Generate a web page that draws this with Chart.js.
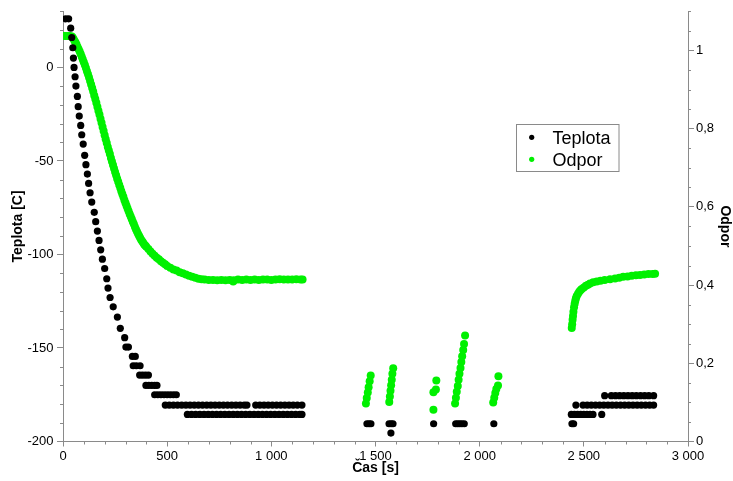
<!DOCTYPE html>
<html lang="cs">
<head>
<meta charset="utf-8">
<title>Teplota a odpor</title>
<script src="https://cdn.jsdelivr.net/npm/chart.js@4.4.1/dist/chart.umd.min.js"></script>
<style>
  html, body { margin:0; padding:0; background:#fff; }
  #graf { display:block; }
</style>
</head>
<body>
<canvas id="graf" width="733" height="481"></canvas>
<script>
// --- data ---
// Teplota [C] vs Čas [s]
const teplotaCas = [
  13, 27, 37, 42, 47, 50, 53, 58, 62, 69, 73, 78, 85, 90, 97, 104, 110, 117, 123, 130, 138,
  150, 157, 165, 173, 181, 189, 200, 210, 216, 226, 241, 261, 275, 296, 302, 314,
  333, 347, 337, 352, 370, 368, 382, 396, 410, 398, 412, 426, 440, 451,
  440, 455, 470, 485, 500, 515, 530, 544,
  // -180 band
  491, 510, 530, 550, 570, 590, 610, 630, 650, 670, 690, 710, 730, 750, 770, 790, 810, 830, 850, 870, 883,
  925, 945, 965, 985, 1005, 1025, 1045, 1065, 1085, 1105, 1125, 1147,
  // -185 band
  597, 617, 637, 657, 677, 697, 717, 737, 757, 777, 797, 817, 837, 857, 877, 897, 917, 937, 957, 977,
  997, 1017, 1037, 1057, 1077, 1097, 1117, 1137, 1147,
  // middle part
  1459, 1469, 1478, 1565, 1575, 1584, 1574, 1779, 1885, 1895, 1905, 1915, 1926, 2068,
  // last part
  2443, 2451,
  2440, 2455, 2470, 2485, 2500, 2515, 2530, 2544, 2586,
  2462, 2496, 2516, 2536, 2556, 2576, 2596, 2616, 2636, 2656, 2676, 2696, 2716, 2736, 2756, 2776, 2796, 2816, 2835,
  2600, 2632, 2652, 2672, 2692, 2712, 2732, 2752, 2772, 2792, 2812, 2835
];
const teplotaHodnota = [
  26, 26, 21, 16, 10.5, 5, 0, -5, -10, -15.5, -21, -26, -31, -36, -41, -47, -52, -57, -62, -67, -72,
  -77.5, -82.5, -87.5, -92.5, -97.5, -102.5, -107.5, -113, -118, -123, -128, -133.5, -139.5, -144.5, -149.5, -149.5,
  -154.5, -154.5, -159.5, -159.5, -159.5, -164.5, -164.5, -164.5, -164.5, -170, -170, -170, -170, -170,
  -175, -175, -175, -175, -175, -175, -175, -175,
  -180.5, -180.5, -180.5, -180.5, -180.5, -180.5, -180.5, -180.5, -180.5, -180.5, -180.5, -180.5, -180.5, -180.5, -180.5, -180.5, -180.5, -180.5, -180.5, -180.5, -180.5,
  -180.5, -180.5, -180.5, -180.5, -180.5, -180.5, -180.5, -180.5, -180.5, -180.5, -180.5, -180.5,
  -185.5, -185.5, -185.5, -185.5, -185.5, -185.5, -185.5, -185.5, -185.5, -185.5, -185.5, -185.5, -185.5, -185.5, -185.5, -185.5, -185.5, -185.5, -185.5, -185.5,
  -185.5, -185.5, -185.5, -185.5, -185.5, -185.5, -185.5, -185.5, -185.5,
  -190.5, -190.5, -190.5, -190.5, -190.5, -190.5, -195.5, -190.5, -190.5, -190.5, -190.5, -190.5, -190.5, -190.5,
  -190.5, -190.5,
  -185.5, -185.5, -185.5, -185.5, -185.5, -185.5, -185.5, -185.5, -185.5,
  -180.5, -180.5, -180.5, -180.5, -180.5, -180.5, -180.5, -180.5, -180.5, -180.5, -180.5, -180.5, -180.5, -180.5, -180.5, -180.5, -180.5, -180.5, -180.5,
  -175.5, -175.5, -175.5, -175.5, -175.5, -175.5, -175.5, -175.5, -175.5, -175.5, -175.5, -175.5
];

// Odpor vs Čas [s]
const odporCas = [
  0, 10, 20, 30, 40, 45, 50, 55, 60, 65, 70, 75, 80, 85, 90, 95, 100, 105, 110, 115, 120, 125, 130, 135,
  140, 145, 150, 155, 160, 165, 170, 175, 180, 185, 190, 195, 200, 205, 210, 215, 220, 225, 230, 235,
  240, 245, 250, 255, 260, 265, 270, 275, 280, 285, 290, 295, 300, 305, 310, 315, 320, 325, 330, 335,
  340, 345, 350, 355, 360, 365, 370, 375, 380, 385, 390, 395, 400,
  410, 420, 430, 440, 450, 460, 470, 480, 490, 500, 515, 530, 545, 560, 575, 590, 605, 620, 635, 650, 665, 680,
  700, 720, 740, 760, 780, 800, 817, 820, 840, 860, 880, 900, 920, 940, 960, 980, 1000, 1020, 1040, 1060,
  1080, 1100, 1120, 1140, 1150,
  // short runs in the middle
  1454, 1458, 1463, 1467, 1472, 1477,
  1566, 1569, 1572, 1575, 1578, 1581, 1585,
  1778, 1778, 1790, 1792,
  1882, 1886, 1890, 1895, 1899, 1903, 1908, 1912, 1916, 1921, 1925, 1930,
  2065, 2070, 2075, 2080, 2088, 2090,
  // warming part
  2442, 2444, 2446, 2448, 2450, 2453, 2456, 2459, 2462, 2466, 2472, 2478, 2484, 2490, 2500, 2510, 2520, 2530,
  2545, 2562, 2580, 2600, 2626, 2650, 2670, 2689, 2710, 2730, 2750, 2770, 2790, 2810, 2830, 2842
];
const odporHodnota = [
  1.037, 1.037, 1.037, 1.037, 1.036, 1.034, 1.030, 1.025, 1.020, 1.015, 1.009, 1.003, 0.997, 0.991, 0.984, 0.977,
  0.970, 0.963, 0.955, 0.947, 0.939, 0.931, 0.922, 0.913,
  0.904, 0.895, 0.885, 0.876, 0.866, 0.856, 0.846, 0.836, 0.825, 0.815, 0.804, 0.794, 0.783, 0.773, 0.763, 0.753,
  0.744, 0.735, 0.725, 0.716,
  0.707, 0.698, 0.689, 0.681, 0.672, 0.664, 0.656, 0.648, 0.640, 0.632, 0.625, 0.617, 0.610, 0.603, 0.596, 0.589,
  0.582, 0.575, 0.569, 0.562,
  0.556, 0.549, 0.543, 0.537, 0.531, 0.526, 0.521, 0.516, 0.512, 0.508, 0.504, 0.501, 0.498,
  0.492, 0.486, 0.480, 0.475, 0.470, 0.466, 0.461, 0.457, 0.453, 0.449, 0.444, 0.440, 0.437, 0.433, 0.430, 0.427,
  0.424, 0.421, 0.419, 0.416, 0.415, 0.414,
  0.413, 0.413, 0.412, 0.413, 0.412, 0.413, 0.409, 0.412, 0.414, 0.413, 0.414, 0.413, 0.414, 0.413, 0.414, 0.414,
  0.413, 0.414, 0.415, 0.414,
  0.414, 0.414, 0.415, 0.414, 0.414,
  0.097, 0.111, 0.125, 0.139, 0.154, 0.169,
  0.101, 0.115, 0.130, 0.144, 0.158, 0.173, 0.187,
  0.081, 0.126, 0.133, 0.156,
  0.097, 0.112, 0.127, 0.142, 0.158, 0.173, 0.188, 0.203, 0.218, 0.234, 0.249, 0.271,
  0.100, 0.112, 0.124, 0.134, 0.143, 0.167,
  0.290, 0.300, 0.311, 0.321, 0.332, 0.343, 0.352, 0.360, 0.366, 0.372, 0.378, 0.383, 0.387, 0.390, 0.394, 0.398,
  0.401, 0.404,
  0.407, 0.409, 0.411, 0.413, 0.415, 0.417, 0.419, 0.421, 0.422, 0.424, 0.425, 0.426, 0.427, 0.428, 0.428, 0.429
];

// axis ticks
const casTicks = [0, 500, 1000, 1500, 2000, 2500, 3000];
const teplotaTicks = [-200, -150, -100, -50, 0];
const odporTicks = [0, 0.2, 0.4, 0.6, 0.8, 1];

const OSA = '#8a8a8a';
const CERNA = '#000000';
const ZELENA = '#00f000';

Chart.defaults.font.family = "'Liberation Sans', Arial, sans-serif";
Chart.defaults.color = '#000';

function body(xs, ys){ return xs.map((x, i) => ({ x: x, y: ys[i] })); }
function tisice(v){ return String(v).replace(/\B(?=(\d{3})+(?!\d))/g, ' '); }
function carka(v){ return (Math.round(v * 10) / 10).toString().replace('.', ','); }

// minor tick marks on all three axes
const vedlejsiCarky = {
  id: 'vedlejsiCarky',
  afterDraw(chart){
    const { ctx, scales: { x, yL, yR } } = chart;
    ctx.save();
    ctx.strokeStyle = OSA; ctx.lineWidth = 1;
    ctx.beginPath();
    for (let v = 0; v <= 3000; v += 100){
      if (v % 500 === 0) continue;
      const px = Math.round(x.getPixelForValue(v)) + 0.5;
      ctx.moveTo(px, x.top); ctx.lineTo(px, x.top + 3);
    }
    for (let v = -200; v <= 30; v += 10){
      if (v % 50 === 0) continue;
      const py = Math.round(yL.getPixelForValue(v)) + 0.5;
      ctx.moveTo(yL.right - 3, py); ctx.lineTo(yL.right, py);
    }
    for (let i = 0; i <= 22; i++){
      if (i % 4 === 0) continue;
      const py = Math.round(yR.getPixelForValue(i * 0.05)) + 0.5;
      ctx.moveTo(yR.left, py); ctx.lineTo(yR.left + 3, py);
    }
    ctx.stroke();
    ctx.restore();
  }
};

// boxed legend inside the plot
const legendaBox = {
  id: 'legendaBox',
  afterDraw(chart){
    const ctx = chart.ctx;
    ctx.save();
    ctx.fillStyle = '#fff'; ctx.strokeStyle = OSA; ctx.lineWidth = 1;
    ctx.fillRect(516.5, 124.5, 102.5, 47);
    ctx.strokeRect(516.5, 124.5, 102.5, 47);
    ctx.font = "18px 'Liberation Sans', Arial, sans-serif";
    ctx.textBaseline = 'alphabetic';
    const radky = [137.3, 159.3];
    chart.data.datasets.forEach((ds, i) => {
      ctx.fillStyle = ds.backgroundColor;
      ctx.beginPath(); ctx.arc(531.7, radky[i], 2.6, 0, Math.PI * 2); ctx.fill();
      ctx.fillStyle = '#000';
      ctx.fillText(ds.label, 552.5, radky[i] + 6.6);
    });
    ctx.restore();
  }
};

new Chart(document.getElementById('graf'), {
  type: 'scatter',
  data: {
    datasets: [
      { label: 'Teplota', data: body(teplotaCas, teplotaHodnota), yAxisID: 'yL',
        backgroundColor: CERNA, borderWidth: 0, pointRadius: 3.6, pointHoverRadius: 3.6 },
      { label: 'Odpor', data: body(odporCas, odporHodnota), yAxisID: 'yR',
        backgroundColor: ZELENA, borderWidth: 0, pointRadius: 4, pointHoverRadius: 4 }
    ]
  },
  options: {
    responsive: false,
    animation: false,
    events: [],
    layout: { padding: { top: 9.3, left: 0, right: 0, bottom: 0 } },
    plugins: { legend: { display: false }, tooltip: { enabled: false } },
    scales: {
      x: {
        type: 'linear', min: 0, max: 3000,
        afterBuildTicks: s => { s.ticks = casTicks.map(v => ({ value: v })); },
        afterFit: s => { s.height = 39.5; },
        grid: { drawOnChartArea: false, tickLength: 5, color: OSA },
        border: { color: OSA },
        ticks: { font: { size: 13 }, padding: 2, maxRotation: 0, autoSkip: false, callback: v => tisice(v) },
        title: { display: true, text: 'Čas [s]', font: { size: 14, weight: 'bold' }, padding: { top: 0, bottom: 4.6 } }
      },
      yL: {
        type: 'linear', position: 'left', min: -200, max: 30,
        afterBuildTicks: s => { s.ticks = teplotaTicks.map(v => ({ value: v })); },
        afterFit: s => { s.width = 63; },
        grid: { drawOnChartArea: false, tickLength: 6, color: OSA },
        border: { color: OSA },
        ticks: { font: { size: 13 }, padding: 3.5, autoSkip: false },
        title: { display: true, text: 'Teplota [C]', font: { size: 14, weight: 'bold' }, padding: { top: 9.6, bottom: 0 } }
      },
      yR: {
        type: 'linear', position: 'right', min: 0, max: 1.1,
        afterBuildTicks: s => { s.ticks = odporTicks.map(v => ({ value: v })); },
        afterFit: s => { s.width = 45; },
        grid: { drawOnChartArea: false, tickLength: 6, color: OSA },
        border: { color: OSA },
        ticks: { font: { size: 13 }, padding: 2, autoSkip: false, callback: v => carka(v) },
        title: { display: true, text: 'Odpor', font: { size: 14, weight: 'bold' }, padding: { top: 0, bottom: 0 } }
      }
    }
  },
  plugins: [vedlejsiCarky, legendaBox]
});
</script>
</body>
</html>
